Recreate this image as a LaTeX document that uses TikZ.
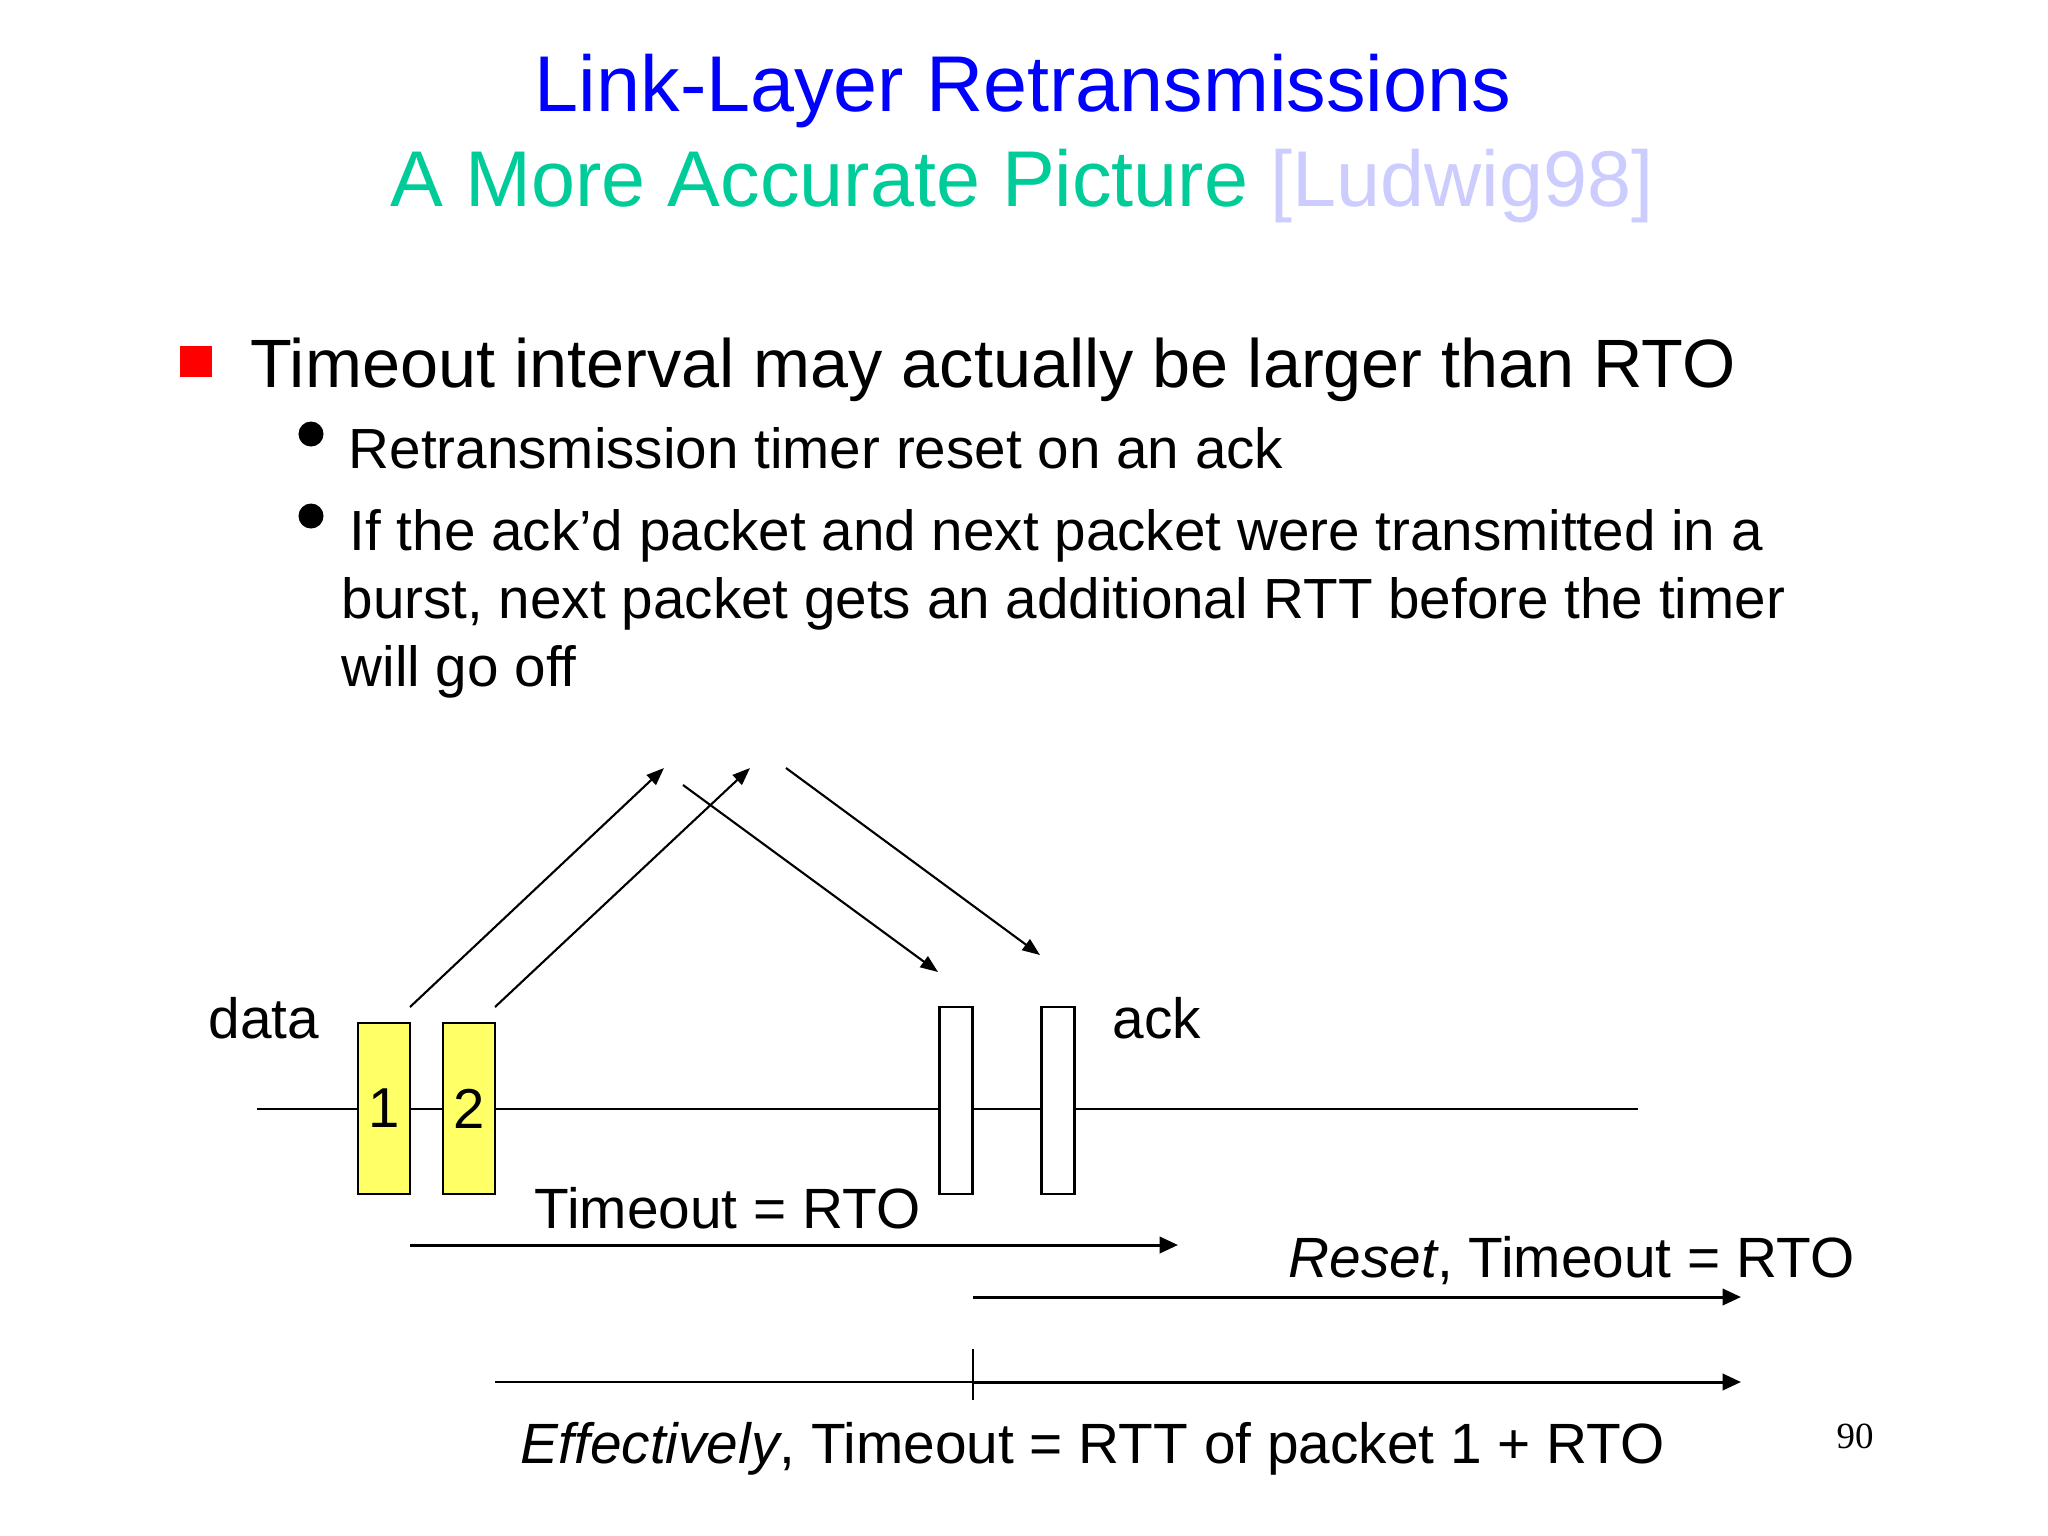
\documentclass[tikz,border=0pt]{standalone}
\usepackage{fontspec}
\setmainfont{Liberation Sans}
\newfontfamily\slidenumfont{Liberation Serif}
\usetikzlibrary{arrows.meta}
\definecolor{SlideBlue}{RGB}{0,0,255}
\definecolor{SlideGreen}{RGB}{0,204,153}
\definecolor{SlideLavender}{RGB}{204,204,255}
\definecolor{SlideRed}{RGB}{255,0,0}
\definecolor{PacketYellow}{RGB}{255,255,102}

\begin{document}
\begin{tikzpicture}[
    x=0.01cm, y=-0.01cm,
    slidetitle/.style={anchor=base, inner sep=0pt, font=\fontsize{22.5}{27}\selectfont},
    mainpoint/.style={anchor=base west, inner sep=0pt, font=\fontsize{19.45}{23}\selectfont},
    subpoint/.style={anchor=base west, inner sep=0pt, font=\fontsize{16.1}{19.3}\selectfont},
    axislabel/.style={anchor=base west, inner sep=0pt, font=\fontsize{16.15}{19}\selectfont},
    sqbullet/.style={rectangle, fill=SlideRed, minimum size=0.31cm, inner sep=0pt},
    dotbullet/.style={circle, fill=black, minimum size=0.25cm, inner sep=0pt},
    packet/.style={rectangle, draw=black, line width=0.7pt, fill=PacketYellow, minimum width=0.52cm, minimum height=1.71cm, inner sep=0pt, font=\fontsize{16}{19}\selectfont},
    acked/.style={rectangle, draw=black, line width=0.7pt, fill=white, minimum width=0.33cm, minimum height=1.87cm, inner sep=0pt},
    flight/.style={-{Triangle[length=5pt, width=3.8pt]}, line width=0.6pt},
    timer/.style={-{Triangle[length=5.2pt, width=4.6pt]}, line width=0.85pt}
  ]
    \fill[white] (0,0) rectangle (2048,1536);
    \useasboundingbox (0,0) rectangle (2048,1536);

    \node[slidetitle, text=SlideBlue] (title) at (1023,111) {Link-Layer Retransmissions};
    \node[slidetitle, text=SlideGreen] (subtitle) at (1022,206) {A More Accurate Picture \textcolor{SlideLavender}{[Ludwig98]}};

    \node[sqbullet] (b1) at (196,361.5) {};
    \node[mainpoint] (p1) at (250,387) {Timeout interval may actually be larger than RTO};
    \node[dotbullet] (b2) at (311,434) {};
    \node[subpoint] (p2) at (348,468) {Retransmission timer reset on an ack};
    \node[dotbullet] (b3) at (311,516) {};
    \node[subpoint] (p3a) at (349,550) {If the ack’d packet and next packet were transmitted in a};
    \node[subpoint] (p3b) at (341,618) {burst, next packet gets an additional RTT before the timer};
    \node[subpoint] (p3c) at (341,686) {will go off};

    \coordinate (lineL) at (257,1109);
    \coordinate (lineR) at (1638,1109);
    \draw[line width=0.6pt] (lineL) -- (lineR);

    \node[packet] (pkt1) at (384,1108.5) {\raisebox{-0.8pt}{1}};
    \node[packet] (pkt2) at (469,1108.5) {\raisebox{-0.8pt}{2}};
    \node[acked] (ack1) at (956,1100.5) {};
    \node[acked] (ack2) at (1058,1100.5) {};
    \node[axislabel] (datalbl) at (208,1038) {data};
    \node[axislabel] (acklbl) at (1112,1038) {ack};

    \coordinate (out1) at (410,1007);
    \coordinate (peak1) at (664,768);
    \coordinate (out2) at (495,1007);
    \coordinate (peak2) at (750,768);
    \coordinate (back1) at (683,785);
    \coordinate (in1) at (938,972);
    \coordinate (back2) at (786,768);
    \coordinate (in2) at (1040,955);
    \draw[flight] (out1) -- (peak1);
    \draw[flight] (out2) -- (peak2);
    \draw[flight] (back1) -- (in1);
    \draw[flight] (back2) -- (in2);

    \coordinate (rto0) at (410,1245);
    \coordinate (rto1) at (1178,1245);
    \draw[timer] (rto0) -- (rto1);
    \node[axislabel] (rtolbl) at (534,1228) {Timeout = RTO};

    \coordinate (reset0) at (973,1297);
    \coordinate (reset1) at (1741,1297);
    \draw[timer] (reset0) -- (reset1);
    \node[axislabel] (resetlbl) at (1288,1277) {\textit{Reset}, Timeout = RTO};

    \coordinate (eff0) at (495,1382);
    \coordinate (effmid) at (973,1382);
    \coordinate (eff1) at (1741,1382);
    \coordinate (tickT) at (973,1349);
    \coordinate (tickB) at (973,1400);
    \draw[line width=0.5pt] (eff0) -- (effmid);
    \draw[timer] (effmid) -- (eff1);
    \draw[line width=0.5pt] (tickT) -- (tickB);
    \node[axislabel] (efflbl) at (520,1463) {\textit{Effectively}, Timeout = RTT of packet 1 + RTO};

    \node[anchor=base west, inner sep=0pt, font=\slidenumfont\fontsize{10.5}{12}\selectfont] (pagenum) at (1836,1448) {90};
\end{tikzpicture}
\end{document}
